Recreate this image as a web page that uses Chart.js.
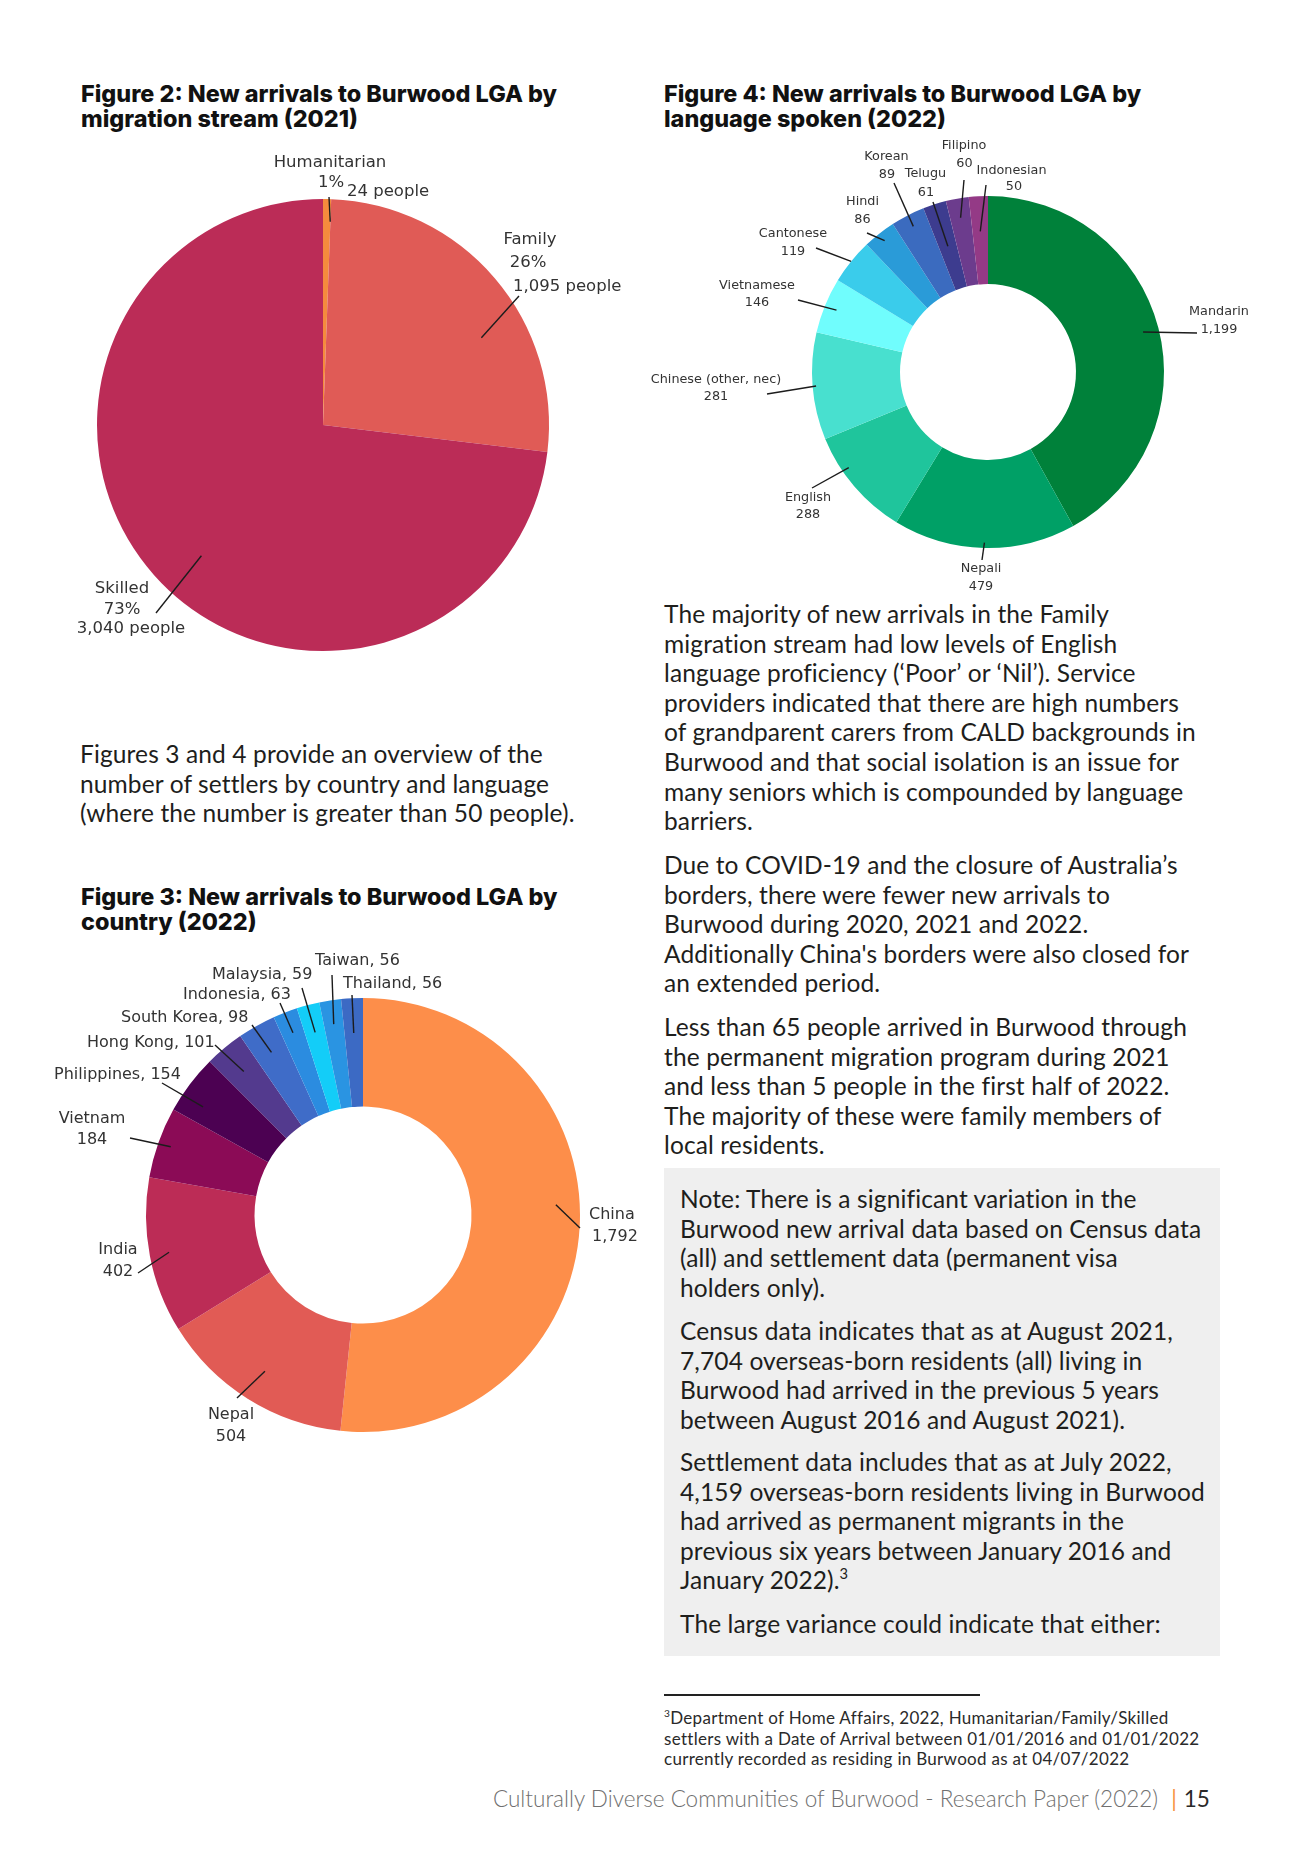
<!DOCTYPE html>
<html><head><meta charset="utf-8">
<script src="https://cdn.jsdelivr.net/npm/chart.js@4.4.1/dist/chart.umd.min.js"></script>
<style>
html,body{margin:0;padding:0;width:1312px;height:1855px;overflow:hidden;background:#fff;}
body{position:relative;font-family:Lato,'Open Sans',sans-serif;color:#1e1e1c;}
.abs{position:absolute;white-space:nowrap;}
.title{font-family:Inter,sans-serif;font-weight:800;font-size:23.4px;line-height:25px;color:#111;}
.txt{font-size:24.5px;line-height:29.6px;letter-spacing:0.12px;}
.box{position:absolute;left:664px;top:1168px;width:556px;height:488px;background:#efefef;}
.fn{font-size:17px;line-height:20.5px;letter-spacing:0.3px;color:#2a2a2a;}
canvas{position:absolute;}
sup{font-size:60%;line-height:0;vertical-align:0.7em;}
</style></head><body>

<div class="abs title" style="left:81px;top:81px;">Figure 2: New arrivals to Burwood LGA by<br>migration stream (2021)</div>
<div class="abs title" style="left:664px;top:81px;">Figure 4: New arrivals to Burwood LGA by<br>language spoken (2022)</div>
<div class="abs title" style="left:81px;top:884px;">Figure 3: New arrivals to Burwood LGA by<br>country (2022)</div>

<div class="abs txt" style="left:80px;top:739px;">Figures 3 and 4 provide an overview of the<br>number of settlers by country and language<br>(where the number is greater than 50 people).</div>

<div class="abs txt" style="left:664px;top:599px;">The majority of new arrivals in the Family<br>migration stream had low levels of English<br>language proficiency (‘Poor’ or ‘Nil’). Service<br>providers indicated that there are high numbers<br>of grandparent carers from CALD backgrounds in<br>Burwood and that social isolation is an issue for<br>many seniors which is compounded by language<br>barriers.</div>
<div class="abs txt" style="left:664px;top:850px;">Due to COVID-19 and the closure of Australia’s<br>borders, there were fewer new arrivals to<br>Burwood during 2020, 2021 and 2022.<br>Additionally China's borders were also closed for<br>an extended period.</div>
<div class="abs txt" style="left:664px;top:1012px;">Less than 65 people arrived in Burwood through<br>the permanent migration program during 2021<br>and less than 5 people in the first half of 2022.<br>The majority of these were family members of<br>local residents.</div>

<div class="box"></div>
<div class="abs txt" style="left:680px;top:1184px;">Note: There is a significant variation in the<br>Burwood new arrival data based on Census data<br>(all) and settlement data (permanent visa<br>holders only).</div>
<div class="abs txt" style="left:680px;top:1316px;">Census data indicates that as at August 2021,<br>7,704 overseas-born residents (all) living in<br>Burwood had arrived in the previous 5 years<br>between August 2016 and August 2021).</div>
<div class="abs txt" style="left:680px;top:1447px;">Settlement data includes that as at July 2022,<br>4,159 overseas-born residents living in Burwood<br>had arrived as permanent migrants in the<br>previous six years between January 2016 and<br>January 2022).<sup>3</sup></div>
<div class="abs txt" style="left:680px;top:1609px;">The large variance could indicate that either:</div>

<div class="abs" style="left:664px;top:1694px;width:316px;height:1.5px;background:#222;"></div>
<div class="abs fn" style="left:664px;top:1708px;"><sup>3</sup>Department of Home Affairs, 2022, Humanitarian/Family/Skilled<br>settlers with a Date of Arrival between 01/01/2016 and 01/01/2022<br>currently recorded as residing in Burwood as at 04/07/2022</div>

<div class="abs" style="left:493px;top:1785px;font-size:22.5px;line-height:28px;"><span style="font-weight:300;color:#707070;">Culturally Diverse Communities of Burwood - Research Paper (2022)</span><span style="color:#F7923F;margin-left:13px;">|</span><span style="color:#2a2a2a;margin-left:7px;">15</span></div>

<canvas id="c2" width="604" height="560" style="left:21px;top:145px;"></canvas>
<canvas id="c3" width="636" height="540" style="left:45px;top:945px;"></canvas>
<canvas id="c4" width="686" height="474" style="left:645px;top:135px;"></canvas>

<script>
// ---- data ----
const streamLabels = ['Humanitarian', 'Family', 'Skilled'];
const streamValues = [24, 1095, 3040];

const countryLabels = ['China', 'Nepal', 'India', 'Vietnam', 'Philippines', 'Hong Kong', 'South Korea', 'Indonesia', 'Malaysia', 'Taiwan', 'Thailand'];
const countryValues = [1792, 504, 402, 184, 154, 101, 98, 63, 59, 56, 56];

const languageLabels = ['Mandarin', 'Nepali', 'English', 'Chinese (other, nec)', 'Vietnamese', 'Cantonese', 'Hindi', 'Korean', 'Telugu', 'Filipino', 'Indonesian'];
const languageValues = [1199, 479, 288, 281, 146, 119, 86, 89, 61, 60, 50];

// ---- styles ----
const streamColors = ['#F58B3D', '#E05B56', '#BB2C57'];
const countryColors = ['#FD8E4A', '#E15B55', '#BC2C56', '#8B0B56', '#4C0152', '#533A8E', '#3F6CC8', '#2B8CE0', '#13CDF8', '#2A94E2', '#3C6AC4'];
const languageColors = ['#00813A', '#00A066', '#1FC59C', '#48E0CF', '#70FDFD', '#3ACCEB', '#2A9BD8', '#3B6BBF', '#3D3C8F', '#6C3C8D', '#943A86'];

// callout layout: rf = radius fraction of leader start, da = angle nudge (deg),
// end = leader end relative to centre, lines = [dx, dy, align] relative to centre
const streamCallouts = [
  {rf: .9, da: 1, end: [6, -228], lines: [[7, -262, 'center'], [8, -242, 'center'], [24, -233, 'left']]},
  {rf: .8, da: 11.7, end: [196, -129], lines: [[207, -185, 'center'], [205, -162, 'center'], [190, -138, 'left']]},
  {rf: .79, da: -5.5, end: [-167, 188], lines: [[-201, 164, 'center'], [-201, 185, 'center'], [-192, 204, 'center']]}
];
const countryCallouts = [
  {rf: .89, da: -6, end: [217, 13], lines: [[226, 0, 'left'], [229, 22, 'left']]},
  {rf: .85, end: [-126, 183], lines: [[-132, 200, 'center'], [-132, 222, 'center']]},
  {rf: .91, end: [-225, 58], lines: [[-245, 35, 'center'], [-245, 57, 'center']]},
  {rf: .94, end: [-233, -77], lines: [[-271, -96, 'center'], [-271, -75, 'center']]},
  {rf: .89, da: -3, end: [-201, -132], lines: [[-309, -140, 'left']]},
  {rf: .86, end: [-148, -170], lines: [[-276, -172, 'left']]},
  {rf: .86, end: [-111, -190], lines: [[-242, -197, 'left']]},
  {rf: .9, end: [-83, -212], lines: [[-180, -220, 'left']]},
  {rf: .87, end: [-61, -227], lines: [[-151, -240, 'left']]},
  {rf: .89, end: [-31, -240], lines: [[-48, -254, 'left']]},
  {rf: .84, end: [-11, -220], lines: [[-20, -231, 'left']]}
];
const languageCallouts = [
  {rf: .91, end: [209, -39], lines: [[231, -60, 'center'], [231, -42, 'center']]},
  {rf: .97, end: [-6, 188], lines: [[-7, 197, 'center'], [-7, 215, 'center']]},
  {rf: .96, da: 6, end: [-176, 116], lines: [[-180, 126, 'center'], [-180, 143, 'center']]},
  {rf: .98, end: [-221, 22], lines: [[-272, 8, 'center'], [-272, 25, 'center']]},
  {rf: .93, end: [-190, -72], lines: [[-231, -86, 'center'], [-231, -69, 'center']]},
  {rf: 1.0, end: [-172, -124], lines: [[-195, -138, 'center'], [-195, -120, 'center']]},
  {rf: .95, end: [-121, -139], lines: [[-125.5, -170, 'center'], [-125.5, -152, 'center']]},
  {rf: .93, end: [-94, -189], lines: [[-101.5, -215, 'center'], [-101, -197, 'center']]},
  {rf: .75, end: [-55, -170], lines: [[-62.5, -198, 'center'], [-62, -179, 'center']]},
  {rf: .89, end: [-24, -192], lines: [[-24, -226, 'center'], [-23.5, -208, 'center']]},
  {rf: .8, end: [-2, -187], lines: [[23.5, -201, 'center'], [26, -185, 'center']]}
];

const fmt = v => v.toLocaleString('en-US');

function makeCallouts(layout, texts, font, color) {
  return {
    id: 'callouts',
    afterDatasetsDraw(chart) {
      const ctx = chart.ctx;
      const meta = chart.getDatasetMeta(0);
      layout.forEach((it, i) => {
        const arc = meta.data[i];
        const p = arc.getProps(['x', 'y', 'startAngle', 'endAngle', 'outerRadius'], true);
        const a = (p.startAngle + p.endAngle) / 2 + (it.da || 0) * Math.PI / 180;
        const r = p.outerRadius * it.rf;
        const x0 = p.x + Math.cos(a) * r, y0 = p.y + Math.sin(a) * r;
        ctx.save();
        ctx.strokeStyle = '#1c1c1c';
        ctx.lineWidth = 1.4;
        ctx.beginPath();
        ctx.moveTo(x0, y0);
        ctx.lineTo(p.x + it.end[0], p.y + it.end[1]);
        ctx.stroke();
        ctx.fillStyle = color;
        ctx.font = font;
        ctx.textBaseline = 'middle';
        it.lines.forEach((ln, j) => {
          ctx.textAlign = ln[2];
          ctx.fillText(texts[i][j], p.x + ln[0], p.y + ln[1]);
        });
        ctx.restore();
      });
    }
  };
}

function baseOptions(radius, cutout) {
  return {
    responsive: false,
    animation: false,
    radius: radius,
    cutout: cutout,
    layout: {padding: 0},
    plugins: {legend: {display: false}, tooltip: {enabled: false}},
    elements: {arc: {borderWidth: 0}}
  };
}

// Figure 2
const streamTotal = streamValues.reduce((a, b) => a + b, 0);
const streamTexts = streamLabels.map((l, i) => [l, Math.round(streamValues[i] / streamTotal * 100) + '%', fmt(streamValues[i]) + ' people']);
new Chart(document.getElementById('c2'), {
  type: 'pie',
  data: {labels: streamLabels, datasets: [{data: streamValues, backgroundColor: streamColors, borderWidth: 0}]},
  options: baseOptions(226, 0),
  plugins: [makeCallouts(streamCallouts, streamTexts, '16.5px "DejaVu Sans"', '#333')]
});

// Figure 3
const countryTexts = countryLabels.map((l, i) => countryCallouts[i].lines.length === 2 ? [l, fmt(countryValues[i])] : [l + ', ' + fmt(countryValues[i])]);
new Chart(document.getElementById('c3'), {
  type: 'doughnut',
  data: {labels: countryLabels, datasets: [{data: countryValues, backgroundColor: countryColors, borderWidth: 0}]},
  options: baseOptions(217, '50%'),
  plugins: [makeCallouts(countryCallouts, countryTexts, '16px "DejaVu Sans"', '#333')]
});

// Figure 4
const languageTexts = languageLabels.map((l, i) => [l, fmt(languageValues[i])]);
new Chart(document.getElementById('c4'), {
  type: 'doughnut',
  data: {labels: languageLabels, datasets: [{data: languageValues, backgroundColor: languageColors, borderWidth: 0}]},
  options: baseOptions(176, '50%'),
  plugins: [makeCallouts(languageCallouts, languageTexts, '12.8px "DejaVu Sans"', '#333')]
});
</script>
</body></html>
